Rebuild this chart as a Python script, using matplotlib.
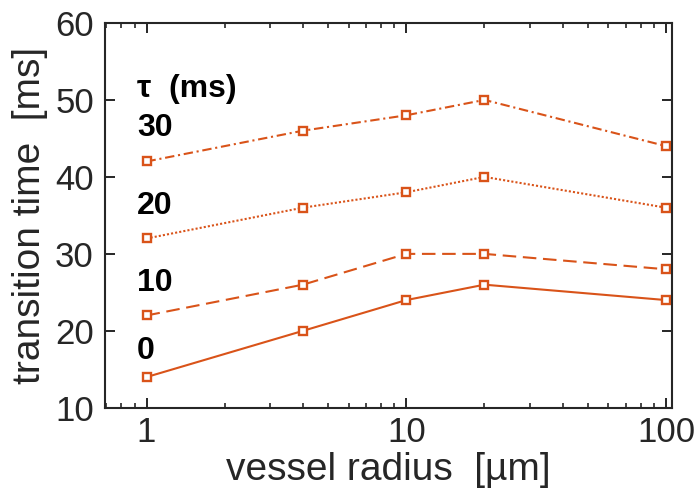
import matplotlib
matplotlib.use("Agg")
import matplotlib.pyplot as plt

plt.rcParams['font.family'] = ['Liberation Sans', 'DejaVu Sans']

#vessel radius (um) and transition times (ms) for each tau
radius = [1, 4, 10, 20, 100]
t0 = [14, 20, 24, 26, 24]
t10 = [22, 26, 30, 30, 28]
t20 = [32, 36, 38, 40, 36]
t30 = [42, 46, 48, 50, 44]
tauLabels = ['0', '10', '20', '30']
labelY = [17.4, 26.2, 36.2, 46.3]

color = '#D95319'
dark = '#262626'

fig = plt.figure(figsize=(6.98, 4.98), dpi=100)
ax = fig.add_axes([0.1504, 0.181, 0.8124, 0.773])

styles = ['-', (0, (6.5, 3.2)), (0, (1, 1)), (0, (4.5, 1.8, 1, 1.8))]
for series, ls in zip([t0, t10, t20, t30], styles):
    ax.plot(radius, series, linestyle=ls, color=color, linewidth=1.5,
            marker='s', markersize=6, markerfacecolor='white',
            markeredgecolor=color, markeredgewidth=1.7)

#tau labels
for lab, y in zip(tauLabels, labelY):
    ax.text(0.92, y, lab, fontsize=23, fontweight='bold', ha='left', va='center')
ax.text(0.92, 51.4, '\u03c4  (ms)', fontsize=23, fontweight='bold', ha='left', va='center')

ax.set_xscale('log')
ax.set_xlim(0.692, 105.5)
ax.set_ylim(10, 60)
ax.set_xticks([1, 10, 100])
ax.set_xticklabels(['1', '10', '100'])
ax.set_yticks([10, 20, 30, 40, 50, 60])
ax.set_xlabel('vessel radius  [\u00b5m]', fontsize=28, color=dark, labelpad=2)
ax.set_ylabel('transition time  [ms]', fontsize=28, color=dark, labelpad=5)

ax.tick_params(which='both', direction='in', top=True, right=True,
               colors=dark, labelsize=25)
ax.tick_params(which='major', length=7, width=1.4)
ax.tick_params(axis='x', which='major', pad=6)
ax.tick_params(axis='y', which='major', pad=8)
ax.tick_params(which='minor', length=3.5, width=1.2)
for s in ax.spines.values():
    s.set_color(dark)
    s.set_linewidth(1.5)

fig.savefig('out.png', dpi=100)
